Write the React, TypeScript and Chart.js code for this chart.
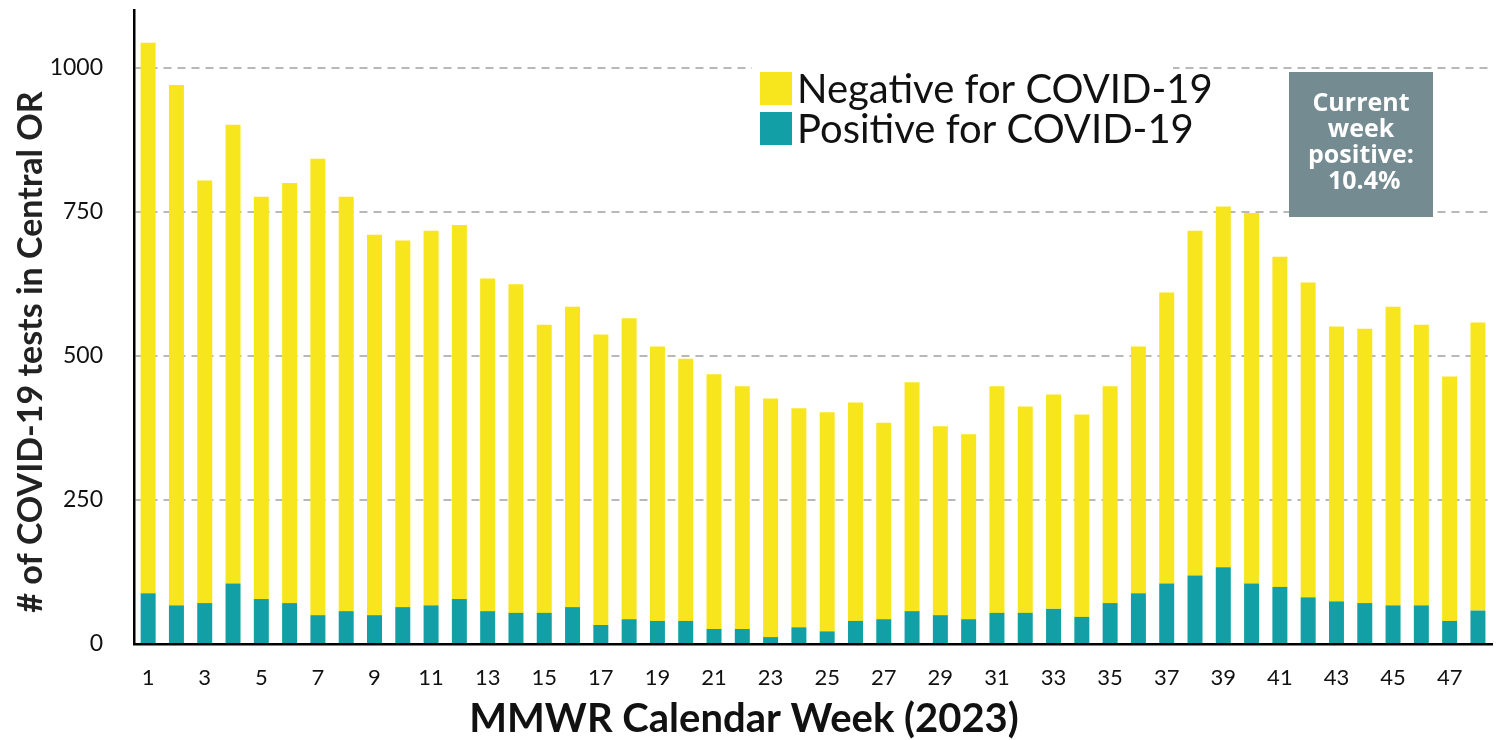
import React, { useEffect, useRef } from 'react';
import { Chart, registerables } from 'chart.js';

Chart.register(...registerables);

const weeks = [
  '1', '2', '3', '4', '5', '6', '7', '8', '9', '10', '11', '12',
  '13', '14', '15', '16', '17', '18', '19', '20', '21', '22', '23', '24',
  '25', '26', '27', '28', '29', '30', '31', '32', '33', '34', '35', '36',
  '37', '38', '39', '40', '41', '42', '43', '44', '45', '46', '47', '48',
];

const positive = [
  88, 67, 71, 105, 78, 71, 50, 57, 50, 64, 67, 78,
  57, 54, 54, 64, 33, 43, 40, 40, 26, 26, 12, 29,
  22, 40, 43, 57, 50, 43, 54, 54, 61, 47, 71, 88,
  105, 119, 133, 105, 99, 81, 74, 71, 67, 67, 40, 58,
];

const negative = [
  955, 903, 733, 796, 698, 729, 792, 719, 660, 636, 650, 649,
  577, 570, 500, 521, 504, 522, 476, 455, 442, 421, 414, 380,
  380, 379, 341, 397, 328, 321, 393, 358, 372, 351, 376, 428,
  505, 598, 626, 643, 573, 546, 477, 476, 518, 487, 424, 500,
];

const yTicks = [0, 250, 500, 750, 1000];

const seriesLabels = ['Negative for COVID-19', 'Positive for COVID-19'];
const noteLines = ['Current', 'week', 'positive:', ' 10.4%'];
const xTitle = 'MMWR Calendar Week (2023)';
const yTitle = '# of COVID-19 tests in Central OR';

const YELLOW = '#F7E61E';
const TEAL = '#12A0A6';
const NOTE_BG = '#748B92';

const overlayPlugin = {
  id: 'overlay',
  afterDraw(chart: any) {
    const ctx = chart.ctx;
    ctx.save();
    // legend
    ctx.fillStyle = '#ffffff';
    ctx.fillRect(752, 58, 421, 92);
    const legendColors = [YELLOW, TEAL];
    ctx.font = '40px Lato';
    ctx.textAlign = 'left';
    ctx.textBaseline = 'alphabetic';
    seriesLabels.forEach((lbl, i) => {
      ctx.fillStyle = legendColors[i];
      ctx.fillRect(760, 72 + i * 40, 32, 33);
      ctx.fillStyle = '#111111';
      ctx.fillText(lbl, 797, 103 + i * 40);
    });
    // note box
    ctx.fillStyle = NOTE_BG;
    ctx.fillRect(1289, 72, 144, 145);
    ctx.fillStyle = '#ffffff';
    ctx.font = 'bold 25px "Open Sans"';
    ctx.textAlign = 'center';
    noteLines.forEach((ln, i) => {
      ctx.fillText(ln, 1361, 111 + i * 26);
    });
    // axis titles
    ctx.fillStyle = '#111111';
    ctx.font = 'bold 40px Lato';
    ctx.textAlign = 'center';
    ctx.textBaseline = 'alphabetic';
    ctx.fillText(xTitle, 744, 732);
    ctx.save();
    ctx.translate(42, 352);
    ctx.rotate(-Math.PI / 2);
    ctx.fillStyle = '#222222';
    ctx.font = 'bold 34px Lato';
    ctx.fillText(yTitle, 0, 0);
    ctx.restore();
    ctx.restore();
  },
};

export default function App() {
  const canvasRef = useRef<HTMLCanvasElement | null>(null);

  useEffect(() => {
    if (!canvasRef.current) return;
    const chart = new Chart(canvasRef.current, {
      type: 'bar',
      data: {
        labels: weeks,
        datasets: [
          {
            label: seriesLabels[1],
            data: positive,
            backgroundColor: TEAL,
            barPercentage: 0.53,
            categoryPercentage: 1,
          },
          {
            label: seriesLabels[0],
            data: negative,
            backgroundColor: YELLOW,
            barPercentage: 0.53,
            categoryPercentage: 1,
          },
        ],
      },
      options: {
        animation: false,
        responsive: true,
        maintainAspectRatio: false,
        layout: { padding: { top: 10, right: 6, left: 0, bottom: 0 } },
        plugins: {
          legend: { display: false },
          tooltip: { enabled: false },
        },
        scales: {
          x: {
            stacked: true,
            grid: { display: false, drawTicks: false },
            border: { display: true, color: '#000000', width: 2.5 },
            ticks: {
              autoSkip: false,
              maxRotation: 0,
              minRotation: 0,
              padding: 21,
              color: '#111111',
              font: { family: 'Lato', size: 22 },
              callback: (_v: any, i: number) => (i % 2 === 0 ? weeks[i] : ''),
            },
            title: { display: false },
            afterFit: (s: any) => {
              s.height = 96;
            },
          },
          y: {
            stacked: true,
            min: 0,
            max: 1100,
            afterBuildTicks: (s: any) => {
              s.ticks = yTicks.map((v) => ({ value: v }));
            },
            grid: {
              color: (c: any) => (c.tick && c.tick.value === 0 ? 'rgba(0,0,0,0)' : '#b8b8b8'),
              lineWidth: 2,
              drawTicks: false,
            },
            border: { display: true, color: '#000000', width: 2.5, dash: [8, 6] },
            ticks: {
              padding: 31,
              color: '#111111',
              font: { family: 'Lato', size: 23 },
              callback: (v: any) => String(v),
            },
            title: { display: false },
            afterFit: (s: any) => {
              s.width = 134;
              s.paddingTop = 0;
              s.paddingBottom = 0;
            },
          },
        },
      },
      plugins: [overlayPlugin],
    } as any);
    return () => chart.destroy();
  }, []);

  return (
    <div style={{ position: 'absolute', left: 0, top: 0, width: 1499, height: 740, background: '#ffffff' }}>
      <canvas ref={canvasRef} />
    </div>
  );
}
